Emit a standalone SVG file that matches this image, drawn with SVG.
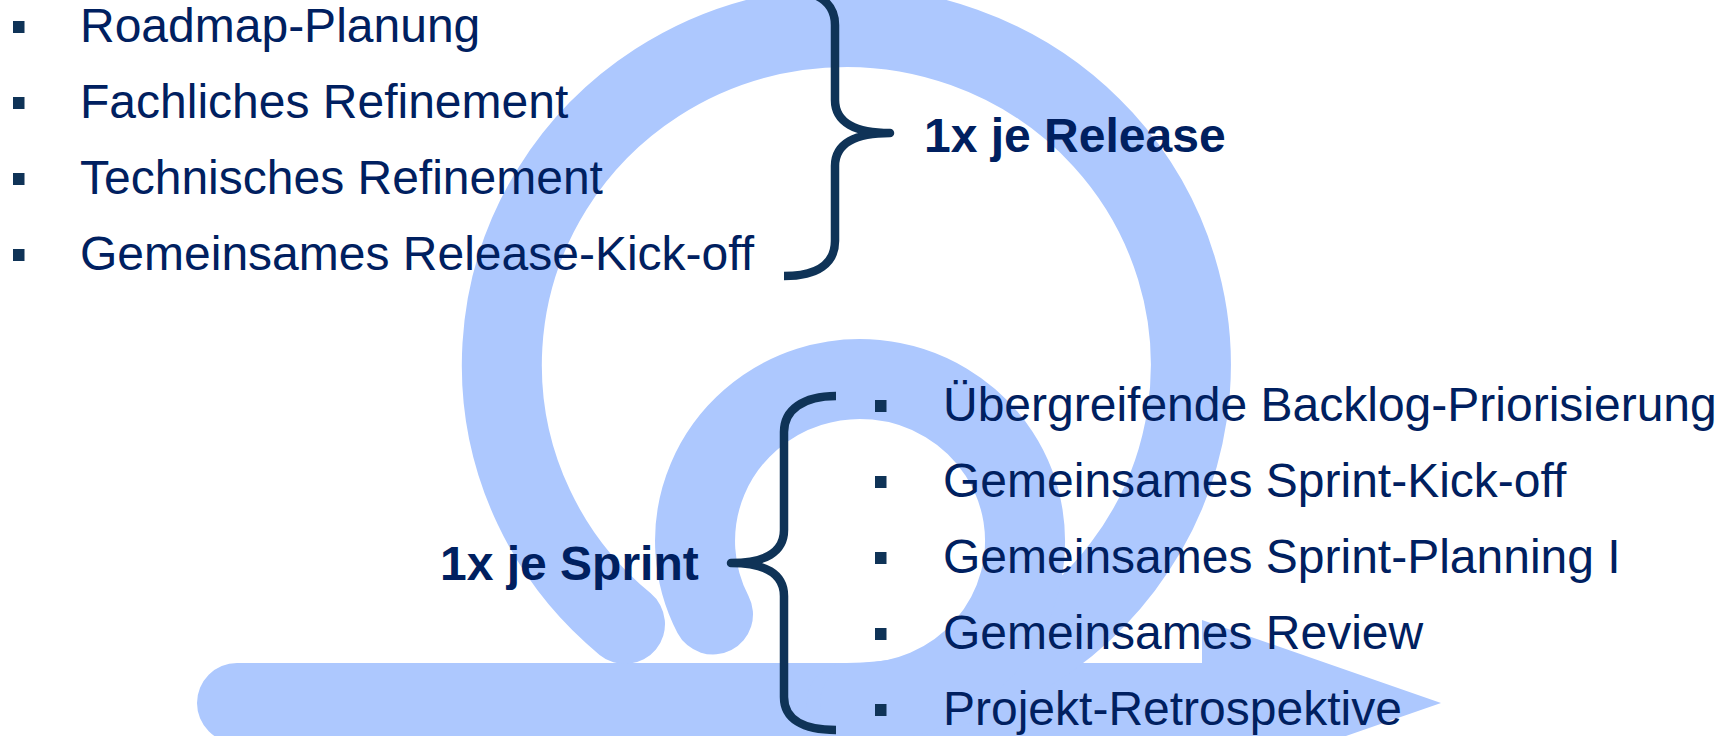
<svg xmlns="http://www.w3.org/2000/svg" width="1729" height="736" viewBox="0 0 1729 736">
  <style>
    .flow { fill: none; stroke: #ADC8FE; stroke-width: 80; stroke-linecap: round; }
    .flowfill { fill: #ADC8FE; stroke: none; }
    .brace { fill: none; stroke: #0F3357; stroke-width: 8.5; stroke-linejoin: round; stroke-linecap: butt; }
    .bullet { fill: #0F3357; }
    .item { font-family: "Liberation Sans", Arial, sans-serif; font-size: 48px; fill: #002060; }
    .label { font-family: "Liberation Sans", Arial, sans-serif; font-size: 48px; font-weight: bold; fill: #002060; }
  </style>
  <rect x="0" y="0" width="1729" height="736" fill="#FFFFFF"/>

  <g id="process-arrow">
    <path class="flowfill" d="M 237,663 L 1202,663 L 1202,620 L 1441,703 L 1202,786 L 1202,743 L 237,743 A 40 40 0 0 1 237,663 Z"/>
    <path id="release-loop" class="flow" d="M 846.5,703 A 344.5 338 0 1 0 625,624"/>
    <path id="sprint-loop" class="flow" d="M 860,703 A 165 162 0 1 0 713,614.5"/>
  </g>

  <g id="release-items">
    <rect class="bullet" x="13" y="21" width="11.5" height="12"/>
    <text class="item" x="80" y="42">Roadmap-Planung</text>
    <rect class="bullet" x="13" y="97" width="11.5" height="12"/>
    <text class="item" x="80" y="118">Fachliches Refinement</text>
    <rect class="bullet" x="13" y="173" width="11.5" height="12"/>
    <text class="item" x="80" y="194">Technisches Refinement</text>
    <rect class="bullet" x="13" y="249" width="11.5" height="12"/>
    <text class="item" x="80" y="270">Gemeinsames Release-Kick-off</text>
  </g>

  <g id="sprint-items">
    <rect class="bullet" x="875" y="400" width="11.5" height="12"/>
    <text class="item" x="943" y="421">Übergreifende Backlog-Priorisierung</text>
    <rect class="bullet" x="875" y="476" width="11.5" height="12"/>
    <text class="item" x="943" y="497">Gemeinsames Sprint-Kick-off</text>
    <rect class="bullet" x="875" y="552" width="11.5" height="12"/>
    <text class="item" x="943" y="573">Gemeinsames Sprint-Planning I</text>
    <rect class="bullet" x="875" y="628" width="11.5" height="12"/>
    <text class="item" x="943" y="649">Gemeinsames Review</text>
    <rect class="bullet" x="875" y="704" width="11.5" height="12"/>
    <text class="item" x="943" y="725">Projekt-Retrospektive</text>
  </g>

  <g id="connectors">
    <path id="release-brace" class="brace" d="M 784,-10 C 818,-10 835,3 835,25 L 835,100 C 835,122 855,133 890,133 C 855,133 835,144 835,166 L 835,241 C 835,263 818,276 784,276"/>
    <path id="sprint-brace" class="brace" d="M 836,396 C 803,396 784,410 784,432 L 784,530 C 784,552 765,563 731,563 C 765,563 784,574 784,596 L 784,697 C 784,719 803,730 836,730"/>
  </g>

  <g id="release-label">
    <text class="label" x="924" y="152">1x je Release</text>
  </g>
  <g id="sprint-label">
    <text class="label" x="440" y="580">1x je Sprint</text>
  </g>
</svg>
